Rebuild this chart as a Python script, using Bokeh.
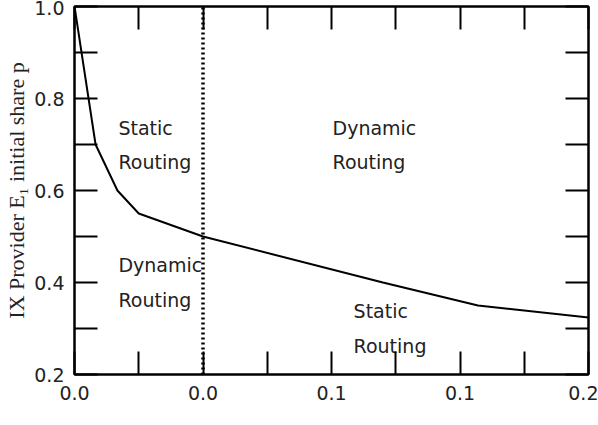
from bokeh.plotting import figure
from bokeh.models import Range1d, FixedTicker, LinearAxis, ColumnDataSource
from bokeh.embed import file_html
from bokeh.resources import INLINE
from bokeh.core.properties import value

# ---- data ----
share_x = [0.0, 0.0082, 0.0167, 0.025, 0.05, 0.12, 0.157, 0.2]
share_p = [1.0, 0.70, 0.60, 0.55, 0.50, 0.40, 0.35, 0.324]
boundary_x = [0.05, 0.05]
boundary_y = [0.2, 1.0]

x_ticks = [0.0, 0.05, 0.1, 0.15, 0.2]
x_tick_labels = ["0.0", "0.0", "0.1", "0.1", "0.2"]
x_minor = [0.025, 0.075, 0.125, 0.175]
y_ticks = [0.2, 0.4, 0.6, 0.8, 1.0]
y_tick_labels = ["0.2", "0.4", "0.6", "0.8", "1.0"]
y_minor = [0.3, 0.5, 0.7, 0.9]

region_text = ["Static", "Routing", "Dynamic", "Routing",
               "Dynamic", "Routing", "Static", "Routing"]
region_x = [0.0171, 0.0171, 0.1004, 0.1004, 0.0171, 0.0171, 0.1086, 0.1086]
region_y = [0.735, 0.663, 0.735, 0.663, 0.439, 0.361, 0.337, 0.261]

y_title = "IX Provider E\u2081 initial share p"

# ---- figure ----
p = figure(width=598, height=425, output_backend="svg", toolbar_location=None,
           x_range=Range1d(0.0, 0.2), y_range=Range1d(0.2, 1.0),
           min_border_left=74, min_border_right=10, min_border_top=6,
           min_border_bottom=51)
p.xgrid.visible = False
p.ygrid.visible = False
p.outline_line_color = "black"
p.outline_line_width = 2
p.background_fill_color = "white"
p.border_fill_color = "white"

xt = FixedTicker(ticks=x_ticks, minor_ticks=x_minor)
yt = FixedTicker(ticks=y_ticks, minor_ticks=y_minor)


def style(ax, ticker, ticks, labels, show):
    ax.ticker = ticker
    ax.major_tick_in = 23
    ax.major_tick_out = 0
    ax.minor_tick_in = 23
    ax.minor_tick_out = 0
    ax.major_tick_line_width = 2
    ax.minor_tick_line_width = 2
    ax.major_tick_line_color = "black"
    ax.minor_tick_line_color = "black"
    ax.axis_line_width = 2
    ax.axis_line_color = "black"
    if show:
        ax.major_label_overrides = {t: l for t, l in zip(ticks, labels)}
        ax.major_label_text_font = "DejaVu Sans"
        ax.major_label_text_font_size = "19px"
        ax.major_label_text_color = "#222222"
        ax.major_label_standoff = 11
    else:
        ax.major_label_text_color = None
        ax.major_label_text_font_size = "0px"
        ax.major_label_standoff = 0


style(p.xaxis[0], xt, x_ticks, x_tick_labels, True)
style(p.yaxis[0], yt, y_ticks, y_tick_labels, True)
p.yaxis[0].major_label_standoff = 10
p.yaxis[0].axis_label = y_title
p.yaxis[0].axis_label_text_font = "Liberation Serif"
p.yaxis[0].axis_label_text_font_style = "normal"
p.yaxis[0].axis_label_text_font_size = "22px"
p.yaxis[0].axis_label_text_color = "#222222"
p.yaxis[0].axis_label_standoff = 2

top_ax = LinearAxis()
right_ax = LinearAxis()
style(top_ax, xt, x_ticks, x_tick_labels, False)
style(right_ax, yt, y_ticks, y_tick_labels, False)
p.add_layout(top_ax, "above")
p.add_layout(right_ax, "right")

# boundary (dotted)
p.line(boundary_x, boundary_y, line_color="black", line_width=3.5,
       line_dash="2 3", line_cap="butt")

# curve
p.line(share_x, share_p, line_color="black", line_width=2)

# region labels
src = ColumnDataSource(dict(x=region_x, y=region_y, t=region_text))
p.text(x="x", y="y", text="t", source=src, text_font=value("DejaVu Sans"),
       text_font_size="19px", text_color="#222222", text_baseline="alphabetic",
       text_align="left")

open("out.html", "w").write(file_html(p, INLINE))
